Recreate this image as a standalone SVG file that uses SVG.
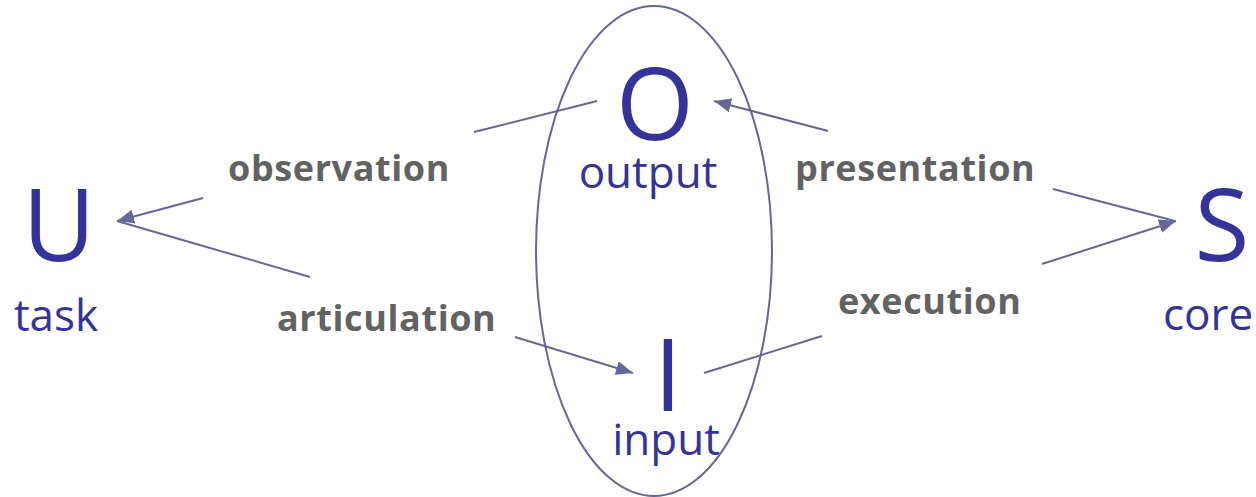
<svg xmlns="http://www.w3.org/2000/svg" width="1256" height="497" viewBox="0 0 1256 497">
<style>
.big{font-family:"Open Sans","Liberation Sans",sans-serif;font-size:100px;fill:#333399;text-anchor:middle}
.lab{font-family:"Open Sans","Liberation Sans",sans-serif;font-size:44px;fill:#333399;text-anchor:middle}
.act{font-family:"Open Sans","Liberation Sans",sans-serif;font-size:36px;font-weight:bold;letter-spacing:0.6px;fill:#626262}
.ln{stroke:#666699;stroke-width:2;fill:none}
</style>
<defs>
<marker id="ah" markerUnits="userSpaceOnUse" markerWidth="18" markerHeight="14" refX="17" refY="7" orient="auto">
<path d="M0,0 L17,7 L0,14 z" fill="#666699"/>
</marker>
</defs>
<g id="ellipse"><ellipse cx="654" cy="251" rx="118" ry="245" class="ln"/></g>
<g id="connectors">
<line class="ln" x1="597" y1="101" x2="474" y2="132"/>
<line class="ln" x1="203" y1="198" x2="117" y2="221" marker-end="url(#ah)"/>
<line class="ln" x1="117" y1="221" x2="310" y2="277"/>
<line class="ln" x1="515" y1="337" x2="633" y2="373" marker-end="url(#ah)"/>
<line class="ln" x1="1175" y1="221" x2="1053" y2="189"/>
<line class="ln" x1="828" y1="131" x2="714" y2="101" marker-end="url(#ah)"/>
<line class="ln" x1="704" y1="373" x2="822" y2="336"/>
<line class="ln" x1="1042" y1="264" x2="1176" y2="221" marker-end="url(#ah)"/>
</g>
<g id="node-U"><text class="big" x="59" y="261">U</text><text class="lab" x="56" y="331">task</text></g>
<g id="node-O"><text class="big" x="655" y="140">O</text><text class="lab" x="648" y="188">output</text></g>
<g id="node-I"><text class="big" x="668" y="411">I</text><text class="lab" x="666" y="455">input</text></g>
<g id="node-S"><text class="big" x="1222" y="261">S</text><text class="lab" x="1208" y="330">core</text></g>
<g id="labels">
<text class="act" x="228" y="181">observation</text>
<text class="act" x="277" y="331">articulation</text>
<text class="act" x="795" y="181">presentation</text>
<text class="act" x="838" y="314">execution</text>
</g>
</svg>
